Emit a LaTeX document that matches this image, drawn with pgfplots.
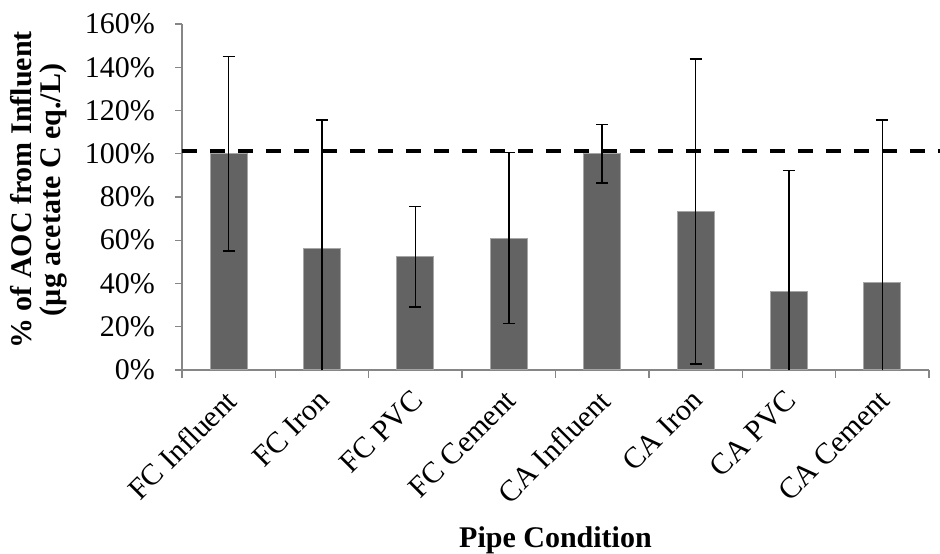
\documentclass[border=0pt]{standalone}
\usepackage{pgfplots}
\pgfplotsset{compat=1.18}
\usepackage{fontspec}
\setmainfont{Liberation Serif}
\definecolor{barfill}{HTML}{636363}
\definecolor{baredge}{HTML}{A6A6A6}
\definecolor{axisgray}{HTML}{868686}
\begin{document}
\begin{tikzpicture}
\fontsize{30bp}{30bp}\selectfont
\begin{axis}[
  name=main,
  x=93.4bp, y=2.1625bp,
  xmin=-0.5, xmax=7.5, ymin=0, ymax=160,
  enlargelimits=false,
  axis x line*=bottom, axis y line*=left,
  axis line style={draw=axisgray, line width=1.3bp},
  tick align=outside,
  ytick={0,20,40,60,80,100,120,140,160},
  yticklabels={0\%,20\%,40\%,60\%,80\%,100\%,120\%,140\%,160\%},
  ytick style={draw=axisgray, line width=1.3bp},
  major tick length=7bp,
  yticklabel style={font=\fontsize{30bp}{30bp}\selectfont, inner sep=0pt, xshift=-20bp},
  xtick={0,1,2,3,4,5,6,7},
  xticklabels={FC Influent,FC Iron,FC PVC,FC Cement,CA Influent,CA Iron,CA PVC,CA Cement},
  xtick style={draw=none},
  xticklabel style={font=\fontsize{30bp}{30bp}\selectfont, inner sep=0pt, xshift=-5bp, yshift=-11bp, rotate=45, anchor=north east},
  extra x ticks={-0.5,0.5,1.5,2.5,3.5,4.5,5.5,6.5,7.5},
  extra x tick labels={},
  extra x tick style={major tick length=8bp, xtick style={draw=axisgray, line width=1.3bp}},
  xlabel={\textbf{Pipe Condition}},
  xlabel style={font=\fontsize{30bp}{30bp}\selectfont, at={(axis description cs:0.5,0)}, anchor=base, yshift=-178bp, inner sep=0pt},
  ylabel={\textbf{\% of AOC from Influent}\\\textbf{(µg acetate C eq./L)}},
  ylabel style={font=\fontsize{30bp}{29bp}\selectfont, align=center, at={(axis description cs:-0.230,0.52)}, anchor=north, rotate=0, inner sep=0pt},
  clip=true,
]
\addplot[ybar, bar width=37bp, fill=barfill, draw=baredge, line width=1bp,
  error bars/.cd, y dir=both, y explicit,
  error bar style={line width=1.6bp, black},
  error mark options={rotate=90, mark size=6bp, line width=1.6bp, black}]
  table[x=x, y=y, y error plus=ep, y error minus=em] {
x y ep em
0 100 45 45
1 56 59.5 59.5
2 52.3 23.3 23.3
3 61 39.5 39.5
4 100 13.5 13.5
5 73.3 70.6 70.6
6 36.3 56 56
7 40.5 75 75
};
\end{axis}
\begin{axis}[
  at={(main.south west)}, anchor=south west,
  x=93.4bp, y=2.1625bp,
  xmin=-0.5, xmax=7.5, ymin=0, ymax=160,
  enlargelimits=false, hide axis, clip=false,
]
\addplot[black, line width=3.6bp, dash pattern=on 15bp off 13bp] coordinates {(-0.5,101.3) (7.62,101.3)};
\end{axis}
\pgfresetboundingbox
\path[use as bounding box] ([shift={(-182bp,-184bp)}]main.south west) rectangle ([shift={(11bp,24bp)}]main.north east);
\end{tikzpicture}
\end{document}
